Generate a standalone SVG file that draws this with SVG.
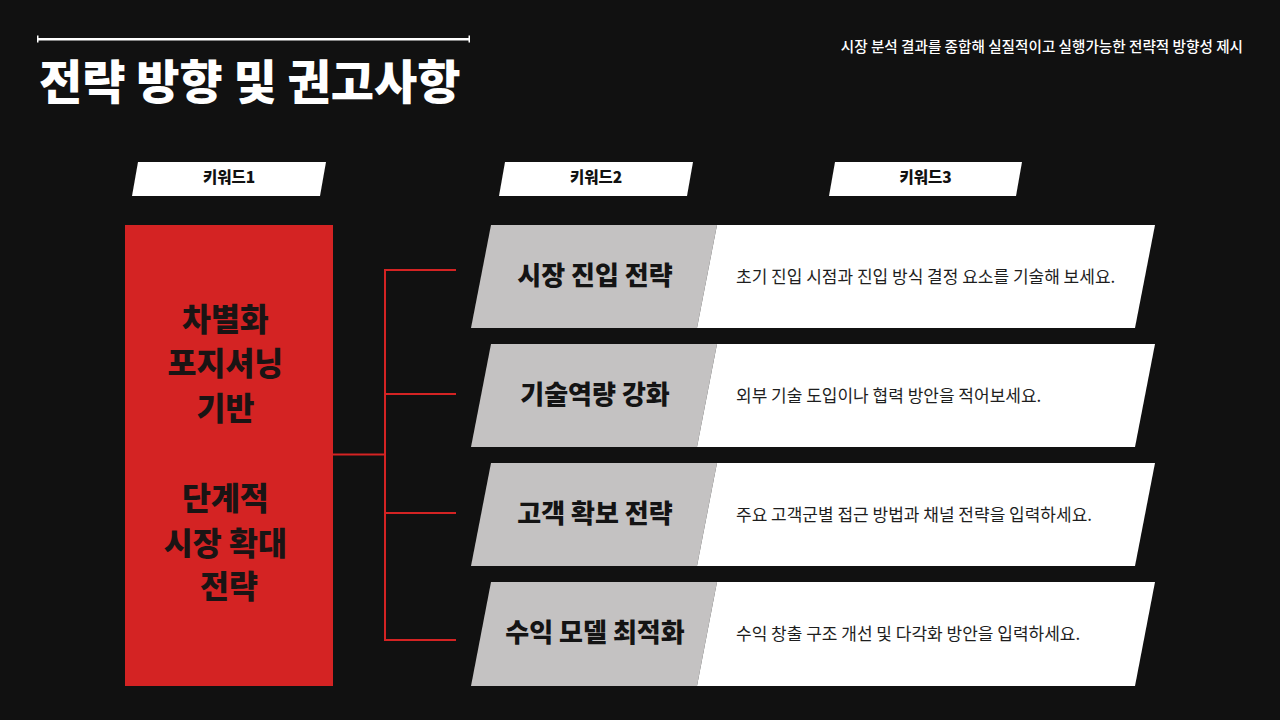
<svg xmlns="http://www.w3.org/2000/svg" width="1280" height="720" viewBox="0 0 1280 720">
  <style>
    .kr { font-family: "Noto Sans CJK KR", "Noto Sans", sans-serif; }
    .title { font-size: 47px; font-weight: 900; fill: #ffffff; }
    .sub { font-size: 14.6px; font-weight: 500; fill: #ffffff; }
    .kw { font-size: 15.5px; font-weight: 900; fill: #111111; }
    .red { font-size: 31.5px; font-weight: 900; fill: #1a1414; }
    .head { font-size: 26px; font-weight: 900; fill: #141414; }
    .desc { font-size: 17px; font-weight: 400; fill: #1e1e1e; }
    .tab { fill: #ffffff; }
    .gray { fill: #c4c2c2; }
    .white { fill: #ffffff; }
    .conn { stroke: #d42323; stroke-width: 2; fill: none; }
  </style>
  <rect x="0" y="0" width="1280" height="720" fill="#111111"/>

  <g id="header">
    <rect x="37" y="38" width="433" height="2.5" fill="#ffffff"/>
    <rect x="37" y="35.5" width="1.5" height="7" fill="#ffffff"/>
    <rect x="468.5" y="35.5" width="1.5" height="7" fill="#ffffff"/>
    <text class="kr title" x="39" y="99">전략 방향 및 권고사항</text>
    <text class="kr sub" x="1243" y="52" text-anchor="end">시장 분석 결과를 종합해 실질적이고 실행가능한 전략적 방향성 제시</text>
  </g>

  <g id="keyword1">
    <polygon class="tab" points="138,162 326,162 320,196 132,196"/>
    <text class="kr kw" x="229" y="183" text-anchor="middle">키워드1</text>
  </g>
  <g id="keyword2">
    <polygon class="tab" points="505,162 693,162 687,196 499,196"/>
    <text class="kr kw" x="596" y="183" text-anchor="middle">키워드2</text>
  </g>
  <g id="keyword3">
    <polygon class="tab" points="835,162 1022,162 1016,196 829,196"/>
    <text class="kr kw" x="925.5" y="183" text-anchor="middle">키워드3</text>
  </g>

  <g id="core">
    <rect x="125" y="225" width="208" height="461" fill="#d42323"/>
    <text class="kr red" text-anchor="middle">
      <tspan x="229" y="331">차별화</tspan>
      <tspan x="229" y="375">포지셔닝</tspan>
      <tspan x="229" y="420">기반</tspan>
      <tspan x="229" y="510">단계적</tspan>
      <tspan x="229" y="555">시장 확대</tspan>
      <tspan x="229" y="598">전략</tspan>
    </text>
  </g>

  <g id="connectors">
    <line class="conn" x1="333" y1="454.5" x2="385" y2="454.5"/>
    <line class="conn" x1="385" y1="269" x2="385" y2="641"/>
    <line class="conn" x1="384" y1="270" x2="456" y2="270"/>
    <line class="conn" x1="384" y1="394" x2="456" y2="394"/>
    <line class="conn" x1="384" y1="513" x2="456" y2="513"/>
    <line class="conn" x1="384" y1="640" x2="456" y2="640"/>
  </g>

  <g id="row1">
    <polygon class="gray" points="491,225 717,225 697,328 471,328"/>
    <polygon class="white" points="717,225 1155,225 1135,328 697,328"/>
    <text class="kr head" x="595" y="285" text-anchor="middle">시장 진입 전략</text>
    <text class="kr desc" x="736" y="283">초기 진입 시점과 진입 방식 결정 요소를 기술해 보세요.</text>
  </g>
  <g id="row2">
    <polygon class="gray" points="491,344 717,344 697,447 471,447"/>
    <polygon class="white" points="717,344 1155,344 1135,447 697,447"/>
    <text class="kr head" x="595" y="404" text-anchor="middle">기술역량 강화</text>
    <text class="kr desc" x="736" y="402">외부 기술 도입이나 협력 방안을 적어보세요.</text>
  </g>
  <g id="row3">
    <polygon class="gray" points="491,463 717,463 697,566 471,566"/>
    <polygon class="white" points="717,463 1155,463 1135,566 697,566"/>
    <text class="kr head" x="595" y="523" text-anchor="middle">고객 확보 전략</text>
    <text class="kr desc" x="736" y="521">주요 고객군별 접근 방법과 채널 전략을 입력하세요.</text>
  </g>
  <g id="row4">
    <polygon class="gray" points="491,582 717,582 697,686 471,686"/>
    <polygon class="white" points="717,582 1155,582 1135,686 697,686"/>
    <text class="kr head" x="595" y="642" text-anchor="middle">수익 모델 최적화</text>
    <text class="kr desc" x="736" y="640">수익 창출 구조 개선 및 다각화 방안을 입력하세요.</text>
  </g>
</svg>
